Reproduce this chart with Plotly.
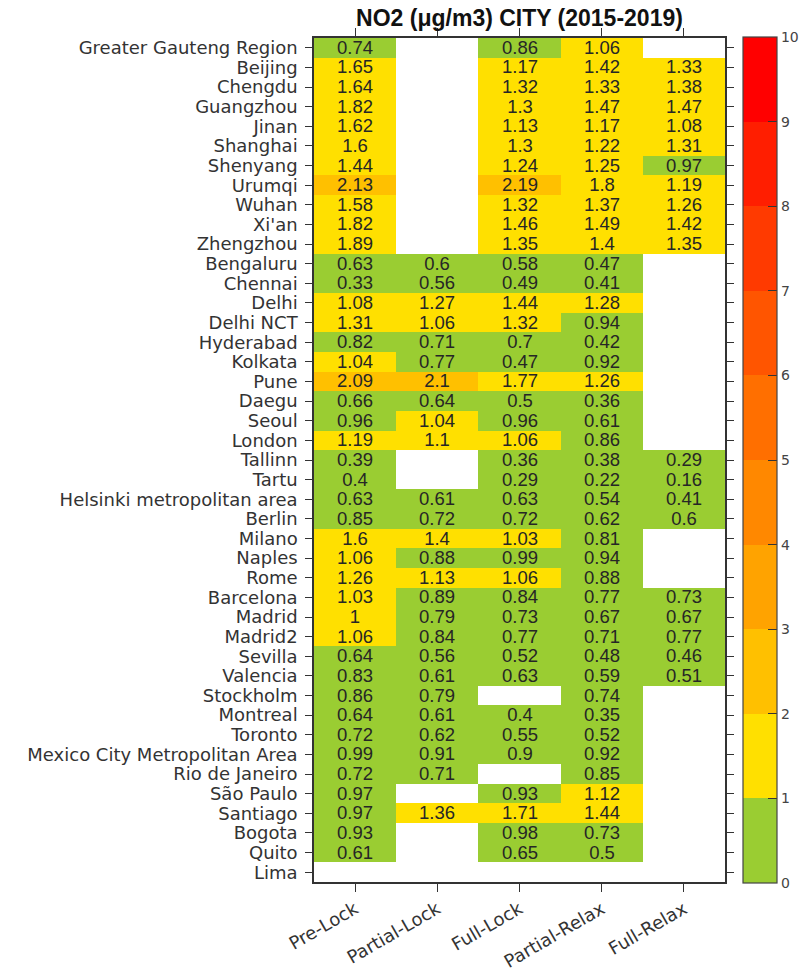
import plotly.graph_objects as go

# NO2 ratio by city and lockdown phase (2015-2019 baseline)
cities = [
    "Greater Gauteng Region", "Beijing", "Chengdu", "Guangzhou", "Jinan",
    "Shanghai", "Shenyang", "Urumqi", "Wuhan", "Xi'an", "Zhengzhou",
    "Bengaluru", "Chennai", "Delhi", "Delhi NCT", "Hyderabad", "Kolkata",
    "Pune", "Daegu", "Seoul", "London", "Tallinn", "Tartu",
    "Helsinki metropolitan area", "Berlin", "Milano", "Naples", "Rome",
    "Barcelona", "Madrid", "Madrid2", "Sevilla", "Valencia", "Stockholm",
    "Montreal", "Toronto", "Mexico City Metropolitan Area", "Rio de Janeiro",
    "São Paulo", "Santiago", "Bogota", "Quito", "Lima",
]
phases = ["Pre-Lock", "Partial-Lock", "Full-Lock", "Partial-Relax", "Full-Relax"]

pre_lock = [
    0.74, 1.65, 1.64, 1.82, 1.62, 1.6, 1.44, 2.13, 1.58, 1.82, 1.89,
    0.63, 0.33, 1.08, 1.31, 0.82, 1.04, 2.09, 0.66, 0.96, 1.19, 0.39, 0.4,
    0.63, 0.85, 1.6, 1.06, 1.26, 1.03, 1, 1.06, 0.64, 0.83, 0.86,
    0.64, 0.72, 0.99, 0.72, 0.97, 0.97, 0.93, 0.61, None,
]
partial_lock = [
    None, None, None, None, None, None, None, None, None, None, None,
    0.6, 0.56, 1.27, 1.06, 0.71, 0.77, 2.1, 0.64, 1.04, 1.1, None, None,
    0.61, 0.72, 1.4, 0.88, 1.13, 0.89, 0.79, 0.84, 0.56, 0.61, 0.79,
    0.61, 0.62, 0.91, 0.71, None, 1.36, None, None, None,
]
full_lock = [
    0.86, 1.17, 1.32, 1.3, 1.13, 1.3, 1.24, 2.19, 1.32, 1.46, 1.35,
    0.58, 0.49, 1.44, 1.32, 0.7, 0.47, 1.77, 0.5, 0.96, 1.06, 0.36, 0.29,
    0.63, 0.72, 1.03, 0.99, 1.06, 0.84, 0.73, 0.77, 0.52, 0.63, None,
    0.4, 0.55, 0.9, None, 0.93, 1.71, 0.98, 0.65, None,
]
partial_relax = [
    1.06, 1.42, 1.33, 1.47, 1.17, 1.22, 1.25, 1.8, 1.37, 1.49, 1.4,
    0.47, 0.41, 1.28, 0.94, 0.42, 0.92, 1.26, 0.36, 0.61, 0.86, 0.38, 0.22,
    0.54, 0.62, 0.81, 0.94, 0.88, 0.77, 0.67, 0.71, 0.48, 0.59, 0.74,
    0.35, 0.52, 0.92, 0.85, 1.12, 1.44, 0.73, 0.5, None,
]
full_relax = [
    None, 1.33, 1.38, 1.47, 1.08, 1.31, 0.97, 1.19, 1.26, 1.42, 1.35,
    None, None, None, None, None, None, None, None, None, None, 0.29, 0.16,
    0.41, 0.6, None, None, None, 0.73, 0.67, 0.77, 0.46, 0.51, None,
    None, None, None, None, None, None, None, None, None,
]
colorbar_ticks = list(range(0, 11))

# one colour per unit step from 0 to 10
step_colors = [
    "#9ACD32", "#FFE000", "#FFC000", "#FFA300", "#FF8800",
    "#FF6F00", "#FF5500", "#FF3A00", "#FF1E00", "#FF0000",
]
colorscale = []
n = len(step_colors)
for i, c in enumerate(step_colors):
    colorscale.append([i / n, c])
    colorscale.append([(i + 1) / n, c])

columns = [pre_lock, partial_lock, full_lock, partial_relax, full_relax]
z = [[col[r] for col in columns] for r in range(len(cities))]


def fmt(v):
    return "" if v is None else f"{v:g}"


text = [[fmt(v) for v in row] for row in z]

W, H = 805, 974
left, right, top, bottom = 314, 725, 38, 882

fig = go.Figure(
    go.Heatmap(
        z=z,
        x=phases,
        y=cities,
        text=text,
        texttemplate="%{text}",
        textfont=dict(family="Liberation Sans, Arial, sans-serif", size=18.5, color="#262626"),
        colorscale=colorscale,
        zmin=0,
        zmax=10,
        xgap=0,
        ygap=0,
        hoverongaps=False,
        colorbar=dict(
            x=(743 - left) / (right - left),
            xanchor="left",
            xref="paper",
            xpad=0,
            y=0.5,
            yanchor="middle",
            ypad=0,
            len=(883 - 37) / (bottom - top),
            lenmode="fraction",
            thickness=34,
            outlinewidth=1.2,
            outlinecolor="#444444",
            tickmode="array",
            tickvals=colorbar_ticks,
            ticktext=[str(t) for t in colorbar_ticks],
            ticks="inside",
            ticklen=9,
            tickwidth=1.2,
            tickcolor="#333333",
            tickfont=dict(family="DejaVu Sans, sans-serif", size=14, color="#444444"),
        ),
    )
)

axis_font = dict(family="DejaVu Sans, sans-serif", size=18, color="#333333")

fig.update_xaxes(
    type="category",
    categoryorder="array",
    categoryarray=phases,
    tickmode="array",
    tickvals=phases,
    ticktext=phases,
    showline=True,
    linecolor="#333333",
    linewidth=1.5,
    mirror="ticks",
    ticks="outside",
    ticklen=8,
    tickwidth=1.2,
    tickcolor="#333333",
    tickangle=-30,
    tickfont=axis_font,
    showgrid=False,
    zeroline=False,
)
fig.update_yaxes(
    type="category",
    categoryorder="array",
    categoryarray=cities,
    tickmode="array",
    tickvals=cities,
    ticktext=cities,
    autorange="reversed",
    showline=True,
    linecolor="#333333",
    linewidth=1.5,
    mirror="ticks",
    ticks="outside",
    ticklen=7,
    tickwidth=1.2,
    tickcolor="#333333",
    tickfont=axis_font,
    ticklabelstandoff=4,
    showgrid=False,
    zeroline=False,
)

fig.update_layout(
    width=W,
    height=H,
    margin=dict(l=left, r=W - right, t=top, b=H - bottom, pad=0, autoexpand=False),
    paper_bgcolor="white",
    plot_bgcolor="white",
    title=dict(
        text="<b>NO2 (μg/m3) CITY (2015-2019)</b>",
        x=0.5,
        xref="paper",
        xanchor="center",
        y=1 - 18 / H,
        yref="container",
        yanchor="middle",
        font=dict(family="Liberation Sans, Arial, sans-serif", size=23, color="#111111"),
    ),
)

fig.write_html("out.html")
